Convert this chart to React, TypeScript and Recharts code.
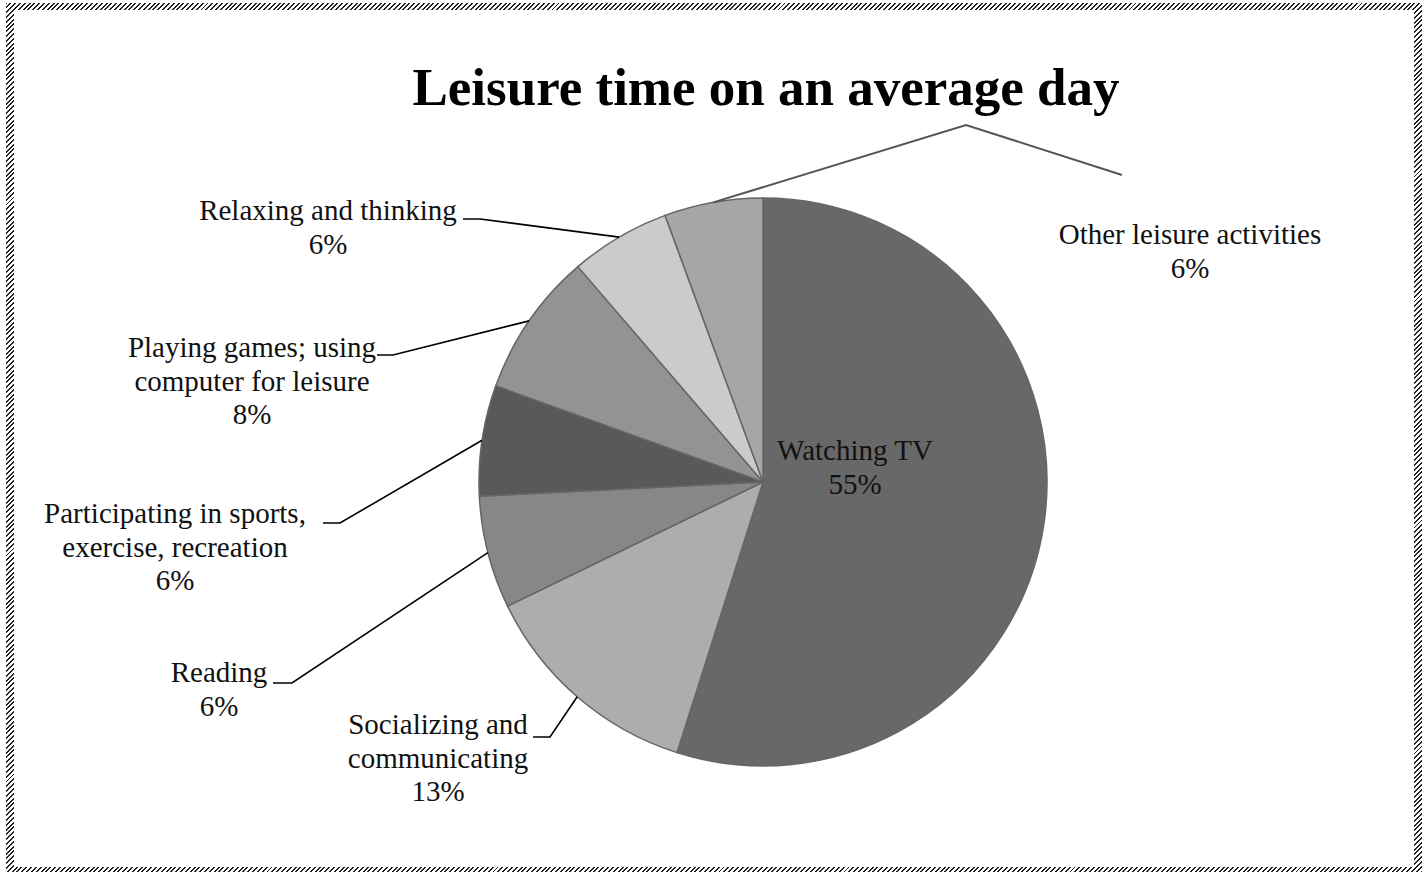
import React from 'react';
import { PieChart, Pie, Cell } from 'recharts';

const categories = [
  'Watching TV',
  'Socializing and communicating',
  'Reading',
  'Participating in sports, exercise, recreation',
  'Playing games; using computer for leisure',
  'Relaxing and thinking',
  'Other leisure activities',
];
const shares = [54.9, 12.9, 6.4, 6.3, 8.2, 5.7, 5.6];
const labelLines = [
  ['Watching TV'],
  ['Socializing and', 'communicating'],
  ['Reading'],
  ['Participating in sports,', 'exercise, recreation'],
  ['Playing games; using', 'computer for leisure'],
  ['Relaxing and thinking'],
  ['Other leisure activities'],
];
const fills = ['#686868', '#adadad', '#878787', '#595959', '#939393', '#cbcbcb', '#a6a6a6'];

const data = categories.map((name, i) => ({ name, value: shares[i] }));

// where each label sits and how its leader bends (page coords)
const labelPos = [
  { tx: 855, ty: 450, pts: [] },
  { tx: 438, ty: 724, pts: [[550, 737], [533, 737]] },
  { tx: 219, ty: 672, pts: [[292, 683], [273, 683]] },
  { tx: 175, ty: 513, pts: [[340, 523], [323, 523]] },
  { tx: 252, ty: 347, pts: [[393, 355], [377, 355]] },
  { tx: 328, ty: 210, pts: [[480, 219], [463, 219]] },
  { tx: 1190, ty: 234, pts: [[966, 125], [1122, 175]] },
];

const RAD = Math.PI / 180;
const FONT = '"Liberation Serif", serif';

const renderLabel = (props: any) => {
  const { cx, cy, midAngle, outerRadius, percent, index } = props;
  const pos = labelPos[index];
  const sx = cx + outerRadius * Math.cos(-midAngle * RAD);
  const sy = cy + outerRadius * Math.sin(-midAngle * RAD);
  const lines = [...labelLines[index], `${Math.round(percent * 100)}%`];
  const d = pos.pts.length
    ? `M${sx},${sy}` + pos.pts.map((p) => ` L${p[0]},${p[1]}`).join('')
    : '';
  return (
    <g key={`lbl-${index}`}>
      {d && (
        <path
          d={d}
          fill="none"
          stroke={index === 6 ? '#555' : '#000'}
          strokeWidth={index === 6 ? 2 : 1.6}
        />
      )}
      <text
        x={pos.tx}
        y={pos.ty}
        textAnchor="middle"
        dominantBaseline="central"
        fill="#111"
        fontFamily={FONT}
        fontSize={29}
      >
        {lines.map((l, j) => (
          <tspan key={j} x={pos.tx} dy={j === 0 ? 0 : 33.5}>
            {l}
          </tspan>
        ))}
      </text>
    </g>
  );
};

export default function App() {
  return (
    <div style={{ position: 'absolute', left: 0, top: 0, width: 1427, height: 872, background: '#fff' }}>
      <div
        style={{
          position: 'absolute',
          left: 6,
          top: 3,
          width: 1416,
          height: 869,
          background: 'repeating-linear-gradient(-45deg, #222 0px, #222 1.4px, #fff 1.4px, #fff 3.4px)',
        }}
      />
      <div style={{ position: 'absolute', left: 14, top: 10, width: 1400, height: 857, background: '#fff' }} />
      <div
        style={{
          position: 'absolute',
          left: 0,
          top: 56,
          width: 1532,
          textAlign: 'center',
          fontFamily: FONT,
          fontWeight: 'bold',
          fontSize: 53,
          lineHeight: '62px',
          color: '#000',
        }}
      >
        Leisure time on an average day
      </div>
      <div style={{ position: 'absolute', left: 0, top: 0 }}>
        <PieChart width={1427} height={872} margin={{ top: 0, right: 0, bottom: 0, left: 0 }}>
          <Pie
            data={data}
            dataKey="value"
            nameKey="name"
            cx={763}
            cy={482}
            outerRadius={284}
            startAngle={90}
            endAngle={-270}
            stroke="#666"
            strokeWidth={1.5}
            label={renderLabel}
            labelLine={false}
            isAnimationActive={false}
          >
            {data.map((d, i) => (
              <Cell key={d.name} fill={fills[i]} />
            ))}
          </Pie>
        </PieChart>
      </div>
    </div>
  );
}
